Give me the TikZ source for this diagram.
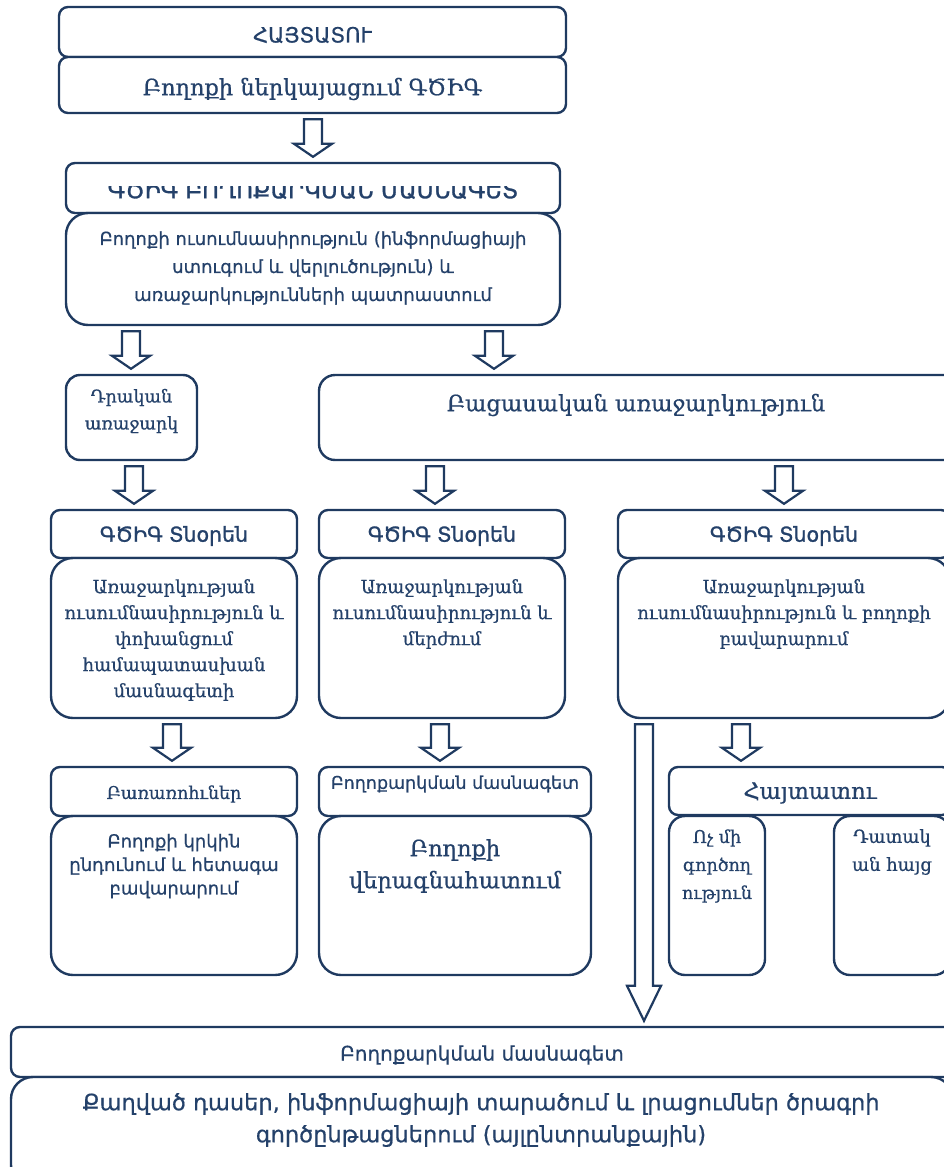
\documentclass[tikz,border=0pt]{standalone}
\usepackage{fontspec}
\setmainfont{DejaVu Serif}
\newfontfamily\armsans[FakeBold=0.6]{DejaVu Sans}
\newfontfamily\armsansb[FakeBold=1.3]{DejaVu Sans}
\newfontfamily\armserif[FakeBold=0.6]{DejaVu Serif}
\usetikzlibrary{calc}
\definecolor{navy}{HTML}{1F3A60}
\definecolor{ink}{HTML}{24416A}
\newcommand\fs[2]{\fontsize{#1}{#2}\selectfont}
% block arrow between two named nodes at pixel column #1
\newcommand\barrow[3]{%
 \draw[arr] let \p1=(#2.south), \p2=(#3.north) in
 (#1pt-9pt,\y1-5pt) -- (#1pt+9pt,\y1-5pt) -- (#1pt+9pt,\y2+18pt) -- (#1pt+19pt,\y2+18pt)
 -- (#1pt,\y2+5pt) -- (#1pt-19pt,\y2+18pt) -- (#1pt-9pt,\y2+18pt) -- cycle;}
\newcommand\longarrow[3]{%
 \draw[arr] let \p1=(#2.south), \p2=(#3.north) in
 (#1pt-9pt,\y1-5pt) -- (#1pt+9pt,\y1-5pt) -- (#1pt+9pt,\y2+40pt) -- (#1pt+17pt,\y2+40pt)
 -- (#1pt,\y2+5pt) -- (#1pt-17pt,\y2+40pt) -- (#1pt-9pt,\y2+40pt) -- cycle;}
\begin{document}
\begin{tikzpicture}[x=1pt,y=-1pt,
 box/.style={draw=navy, line width=2.4pt, rounded corners=9pt, inner sep=0pt, fill=white},
 rbox/.style={box, rounded corners=22pt},
 txt/.style={text=ink, align=center, inner sep=0pt},
 arr/.style={draw=navy, line width=2.2pt, fill=white, line join=miter}]
\useasboundingbox (0,0) rectangle (943,1167);

% top
\node[box, minimum width=507pt, minimum height=50pt] (a1) at (312.5,32) {};
\node[txt, font=\armsans\fs{21}{24}] (ta1) at (312.5,35) {ՀԱՅՏԱՏՈՒ};
\node[box, minimum width=507pt, minimum height=56pt] (a2) at (312.5,85) {};
\node[txt, font=\armserif\fs{22.5}{26}] (ta2) at (312.5,89) {Բողոքի ներկայացում ԳԾԻԳ};

\node[box, minimum width=494pt, minimum height=50pt] (b1) at (313,188) {};
\begin{scope}
\clip (70,186) rectangle (556,208);
\node[txt, font=\armsansb\fs{23}{26}] (tb1) at (313,190) {ԳԾԻԳ ԲՈՂՈՔԱՐԿՄԱՆ ՄԱՍՆԱԳԵՏ};
\end{scope}
\node[rbox, minimum width=494pt, minimum height=112pt] (b2) at (313,269) {};
\node[txt, font=\armsans\fs{18}{28}] (tb2) at (313,268) {Բողոքի ուսումնասիրություն (ինֆորմացիայի\\ստուգում և վերլուծություն) և\\առաջարկությունների պատրաստում};

% row c
\node[rbox, rounded corners=14pt, minimum width=131pt, minimum height=85pt] (c1) at (131.5,417.5) {};
\node[txt, font=\armserif\fs{17.5}{27}] (tc1) at (131.5,411) {Դրական\\առաջարկ};
\node[rbox, rounded corners=16pt, minimum width=641pt, minimum height=85pt] (c2) at (639.5,417.5) {};
\node[txt, font=\armserif\fs{22.5}{26}] (tc2) at (636,405) {Բացասական առաջարկություն};

% row d/e
\node[box, minimum width=246pt, minimum height=48pt] (d1) at (174,534) {};
\node[txt, font=\armsansb\fs{20.5}{24}] (td1) at (174,536) {ԳԾԻԳ Տնօրեն};
\node[box, minimum width=246pt, minimum height=48pt] (d2) at (442,534) {};
\node[txt, font=\armsansb\fs{20.5}{24}] (td2) at (442,536) {ԳԾԻԳ Տնօրեն};
\node[box, minimum width=332pt, minimum height=48pt] (d3) at (784,534) {};
\node[txt, font=\armsansb\fs{20.5}{24}] (td3) at (784,536) {ԳԾԻԳ Տնօրեն};

\node[rbox, minimum width=246pt, minimum height=160pt] (e1) at (174,638) {};
\node[txt, font=\armserif\fs{18}{26}] (te1) at (174,640) {Առաջարկության\\ուսումնասիրություն և\\փոխանցում\\համապատասխան\\մասնագետի};
\node[rbox, minimum width=246pt, minimum height=160pt] (e2) at (442,638) {};
\node[txt, font=\armserif\fs{18}{26}] (te2) at (442,614) {Առաջարկության\\ուսումնասիրություն և\\մերժում};
\node[rbox, minimum width=332pt, minimum height=160pt] (e3) at (784,638) {};
\node[txt, font=\armserif\fs{18}{26}] (te3) at (784,614) {Առաջարկության\\ուսումնասիրություն և բողոքի\\բավարարում};

% row f/g
\node[box, minimum width=246pt, minimum height=49pt] (f1) at (174,791.5) {};
\node[txt, font=\armserif\fs{17.5}{20}] (tf1) at (174,794) {Բառառոհւներ};
\node[box, minimum width=272pt, minimum height=49pt] (f2) at (455,791.5) {};
\node[txt, font=\armsans\fs{17.5}{20}] (tf2) at (455,784) {Բողոքարկման մասնագետ};
\node[box, minimum width=282pt, minimum height=48pt] (f3) at (810,791) {};
\node[txt, font=\armserif\fs{22.5}{26}] (tf3) at (810,793) {Հայտատու};

\node[rbox, minimum width=246pt, minimum height=159pt] (g1) at (174,895.5) {};
\node[txt, font=\armsans\fs{18}{23.5}] (tg1) at (174,866) {Բողոքի կրկին\\ընդունում և հետագա\\բավարարում};
\node[rbox, minimum width=272pt, minimum height=159pt] (g2) at (455,895.5) {};
\node[txt, font=\armserif\fs{22.5}{32}] (tg2) at (455,866) {Բողոքի\\վերագնահատում};
\node[rbox, rounded corners=16pt, minimum width=96pt, minimum height=159pt] (g3) at (717,895.5) {};
\node[txt, font=\armserif\fs{17.5}{28}] (tg3) at (717,866) {Ոչ մի\\գործող\\ություն};
\node[rbox, rounded corners=16pt, minimum width=116pt, minimum height=159pt] (g4) at (892,895.5) {};
\node[txt, font=\armserif\fs{18}{28}] (tg4) at (892,852) {Դատակ\\ան հայց};

% bottom
\node[box, minimum width=942pt, minimum height=50pt] (h1) at (482,1052) {};
\node[txt, font=\armsans\fs{20}{23}] (th1) at (482,1055) {Բողոքարկման մասնագետ};
\node[rbox, minimum width=942pt, minimum height=110pt] (h2) at (482,1132) {};
\node[txt, font=\armsans\fs{22.5}{32}] (th2) at (481,1120) {Քաղված դասեր, ինֆորմացիայի տարածում և լրացումներ ծրագրի\\գործընթացներում (այլընտրանքային)};

% arrows
\barrow{313}{a2}{b1}
\barrow{131}{b2}{c1}
\barrow{494}{b2}{c2}
\barrow{134}{c1}{d1}
\barrow{435}{c2}{d2}
\barrow{784}{c2}{d3}
\barrow{172}{e1}{f1}
\barrow{440}{e2}{f2}
\barrow{741}{e3}{f3}
\longarrow{644}{e3}{h1}
\end{tikzpicture}
\end{document}
